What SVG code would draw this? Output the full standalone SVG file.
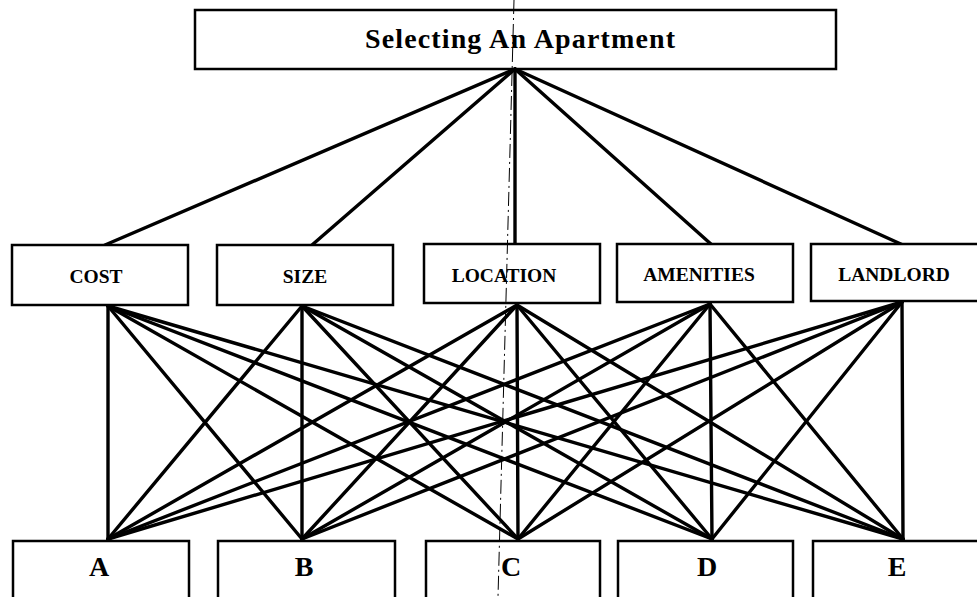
<svg xmlns="http://www.w3.org/2000/svg" width="977" height="597" viewBox="0 0 977 597">
<style>
.box{fill:#fff;stroke:#000;stroke-width:2.5}
.c{stroke:#000;stroke-width:3.4;stroke-linecap:round;fill:none}
.t{font-family:"Liberation Serif","Times New Roman",serif;font-weight:bold;fill:#000;text-anchor:middle}
.mid{font-size:19.5px}
.bot{font-size:28px}
.art{stroke:#000;stroke-width:1;stroke-dasharray:14 4 2 4;fill:none}
</style>
<rect width="977" height="597" fill="#fff"/>
<g id="goal">
<rect class="box" x="195" y="10" width="641" height="59"/>
<text class="t" x="520" y="48" font-size="28" textLength="310" lengthAdjust="spacing">Selecting An Apartment</text>
</g>
<g id="connectors">
<line class="c" x1="515" y1="69" x2="105" y2="245"/>
<line class="c" x1="515" y1="69" x2="312" y2="245"/>
<line class="c" x1="515" y1="69" x2="515" y2="245"/>
<line class="c" x1="515" y1="69" x2="712" y2="245"/>
<line class="c" x1="515" y1="69" x2="903" y2="245"/>
<!-- COST -->
<line class="c" x1="108" y1="306" x2="108" y2="539"/>
<line class="c" x1="108" y1="306" x2="302" y2="539"/>
<line class="c" x1="108" y1="306" x2="518" y2="539"/>
<line class="c" x1="108" y1="306" x2="712" y2="539"/>
<line class="c" x1="108" y1="306" x2="903" y2="539"/>
<!-- SIZE -->
<line class="c" x1="302" y1="306" x2="108" y2="539"/>
<line class="c" x1="302" y1="306" x2="302" y2="539"/>
<line class="c" x1="302" y1="306" x2="518" y2="539"/>
<line class="c" x1="302" y1="306" x2="712" y2="539"/>
<line class="c" x1="302" y1="306" x2="903" y2="539"/>
<!-- LOCATION -->
<line class="c" x1="517" y1="305" x2="108" y2="539"/>
<line class="c" x1="517" y1="305" x2="302" y2="539"/>
<line class="c" x1="517" y1="305" x2="518" y2="539"/>
<line class="c" x1="517" y1="305" x2="712" y2="539"/>
<line class="c" x1="517" y1="305" x2="903" y2="539"/>
<!-- AMENITIES -->
<line class="c" x1="710" y1="304" x2="108" y2="539"/>
<line class="c" x1="710" y1="304" x2="302" y2="539"/>
<line class="c" x1="710" y1="304" x2="518" y2="539"/>
<line class="c" x1="710" y1="304" x2="712" y2="539"/>
<line class="c" x1="710" y1="304" x2="903" y2="539"/>
<!-- LANDLORD -->
<line class="c" x1="902" y1="302" x2="108" y2="539"/>
<line class="c" x1="902" y1="302" x2="302" y2="539"/>
<line class="c" x1="902" y1="302" x2="518" y2="539"/>
<line class="c" x1="902" y1="302" x2="712" y2="539"/>
<line class="c" x1="902" y1="302" x2="903" y2="539"/>
</g>
<g id="cost">
<rect class="box" x="12" y="245" width="176" height="60"/>
<text class="t mid" x="96" y="283">COST</text>
</g>
<g id="size">
<rect class="box" x="217" y="245" width="176" height="60"/>
<text class="t mid" x="305" y="283">SIZE</text>
</g>
<g id="location">
<rect class="box" x="424" y="244" width="176" height="59"/>
<text class="t mid" x="504" y="282">LOCATION</text>
</g>
<g id="amenities">
<rect class="box" x="617" y="244" width="176" height="58"/>
<text class="t mid" x="699" y="281">AMENITIES</text>
</g>
<g id="landlord">
<rect class="box" x="811" y="244" width="168" height="57"/>
<text class="t mid" x="894" y="281">LANDLORD</text>
</g>
<g id="a">
<rect class="box" x="13" y="541" width="176" height="62"/>
<text class="t bot" x="99" y="576">A</text>
</g>
<g id="b">
<rect class="box" x="218" y="541" width="177" height="62"/>
<text class="t bot" x="304" y="576">B</text>
</g>
<g id="c">
<rect class="box" x="426" y="541" width="174" height="62"/>
<text class="t bot" x="511" y="576">C</text>
</g>
<g id="d">
<rect class="box" x="618" y="541" width="175" height="62"/>
<text class="t bot" x="707" y="576">D</text>
</g>
<g id="e">
<rect class="box" x="813" y="541" width="168" height="62"/>
<text class="t bot" x="897" y="576">E</text>
</g>
<line class="art" x1="514" y1="0" x2="498" y2="597"/>
</svg>
